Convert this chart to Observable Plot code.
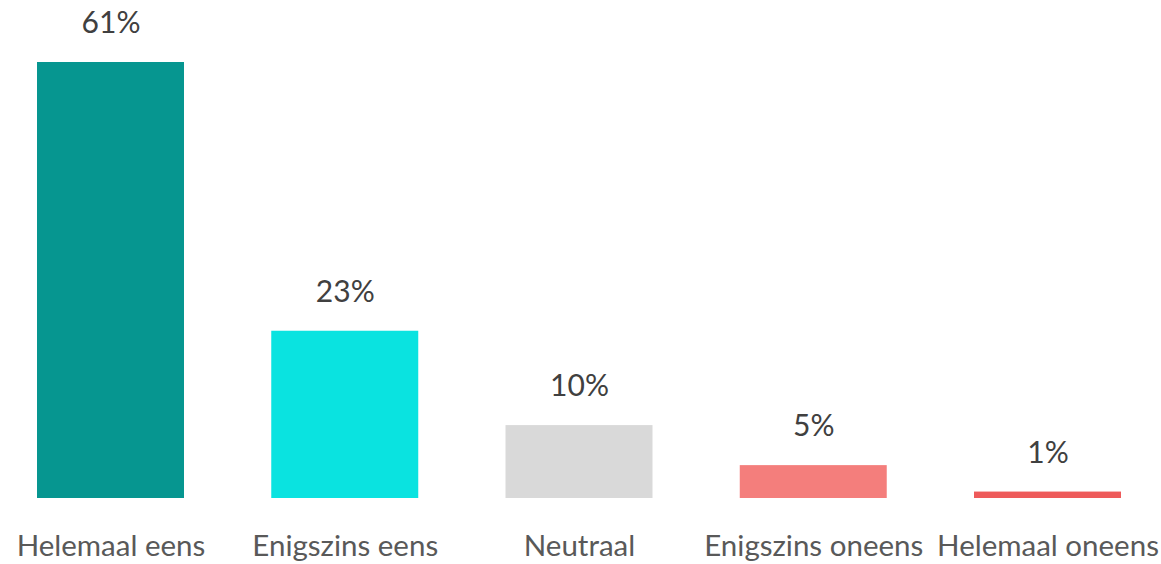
<!DOCTYPE html>
<html>
<head>
<meta charset="utf-8">
<script src="https://cdn.jsdelivr.net/npm/d3@7"></script>
<script src="https://cdn.jsdelivr.net/npm/@observablehq/plot@0.6"></script>
<style>
  html, body { margin: 0; padding: 0; background: #fff; }
  #chart svg { display: block; }
</style>
</head>
<body>
<div id="chart"></div>
<script>
const categories = ["Helemaal eens", "Enigszins eens", "Neutraal", "Enigszins oneens", "Helemaal oneens"];
const values = [61, 23.4, 10.2, 4.6, 0.9];
const labels = ["61%", "23%", "10%", "5%", "1%"];
const colors = ["#069690", "#0ae3e0", "#d9d9d9", "#f47e7c", "#ee5a5a"];

const data = categories.map((c, i) => ({category: c, value: values[i], label: labels[i]}));

const chart = Plot.plot({
  width: 1161,
  height: 564,
  marginTop: 62,
  marginBottom: 66,
  marginLeft: 0,
  marginRight: 3,
  style: {fontFamily: "Lato, sans-serif", background: "#fff"},
  x: {domain: categories, paddingInner: 0.3725, paddingOuter: 0.158, round: false},
  y: {domain: [0, 61], axis: null},
  color: {domain: categories, range: colors},
  marks: [
    Plot.barY(data, {x: "category", y: "value", fill: "category"}),
    Plot.text(data, {x: "category", y: "value", text: "label", dy: -39, fontSize: 30, fill: "#404040"}),
    Plot.axisX({tickSize: 0, tickPadding: 37, fontSize: 29.5, color: "#595959", label: null})
  ]
});
document.getElementById("chart").append(chart);
</script>
</body>
</html>
